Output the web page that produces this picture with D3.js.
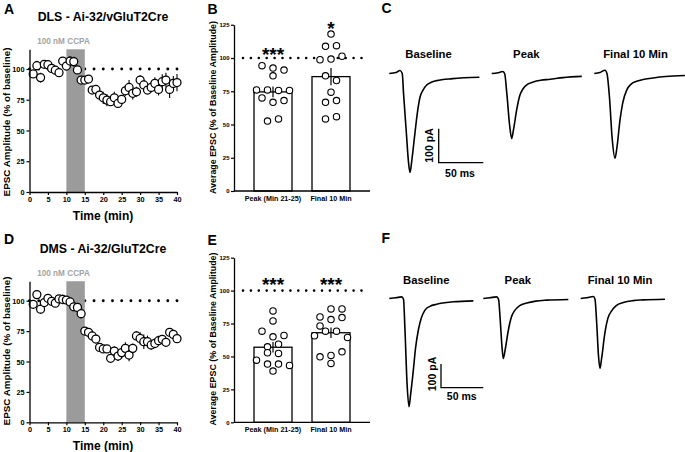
<!DOCTYPE html>
<html><head><meta charset="utf-8">
<script src="https://cdn.jsdelivr.net/npm/d3@7/dist/d3.min.js"></script>
<style>
html,body{margin:0;padding:0;background:#fff;}
svg text{font-family:"Liberation Sans",Arial,Helvetica,sans-serif;font-weight:bold;fill:#000;}
</style></head><body>
<svg id="fig" width="685" height="452"></svg>
<script>
// ---------------- DATA ----------------
const minutes = [1,2,3,4,5,6,7,8,9,10,11,12,13,14,15,16,17,18,19,20,21,22,23,24,25,26,27,28,29,30,31,32,33,34,35,36,37,38,39,40];
const ccpaWindow = [10, 15];
const xTicks = [0,5,10,15,20,25,30,35,40];
const yTicksTime = [0,25,50,75,100];
const yTicksBar = [0,25,50,75,100,125];

const dlsMean = [96,102.7,93,103.8,103.5,100.5,99,97,106.5,102.4,106.5,106,99.2,91,91,91.8,82.9,83.4,78.8,76.6,74.7,73.4,76.6,72,75.3,82.3,85,80.2,81.5,91,87,82.9,85,88.3,83.4,89.7,91,83.4,88.3,89];
const dlsSem  = [2,4,4,2,2,2,2,2,2,2,4,4,3,2,2,2,3,3,3,5,5,3,5,3,3,4,6,5,4,4,4,3,4,5,5,6,6,7,6,7];
const dmsMean = [97,105,93,98.5,102,99.5,98,101.5,101,100.5,99,95,94.5,89.3,75,74,71,68.5,61.6,60.3,60.3,52.6,58.6,54.5,57.3,60.8,55.3,60.8,71,69,66.3,66.3,63.6,64.9,67.1,68.2,65.8,74,72.3,68.8];
const dmsSem  = [2,3,4,2,3,3,3,3,4,3,3,3,3,4,2,2,2,3,2,2,2,3,4,4,5,5,5,4,4,5,6,5,4,4,4,3,3,3,3,2];

const barCategories = ["Peak (Min 21-25)", "Final 10 Min"];
const dlsBarMean = [74.5, 86];
const dlsBarSem = [4, 6.5];
const dlsPeakCells  = [94.2,92.4,90.9,86.6,76,76,75.6,75.6,70,66.7,68,52.6,54.2];
const dlsFinalCells = [118,108.8,109.3,98.7,99.2,101.3,86.6,83.1,74.3,66.7,68,54.2,55.9];
const dmsBarMean = [57, 68];
const dmsBarSem = [4, 4];
const dmsPeakCells  = [84.6,77,69.2,64.9,65.9,57.3,59.3,52.8,52.3,47.2,44.2,44.2,43.2,38.9];
const dmsFinalCells = [80,86.1,86.1,73.2,78,79.5,65.7,69.2,69.2,64.4,49.7,50.8,53.5,44.7];

// Example EPSC traces (ms, pA)
const traceNames = ["Baseline", "Peak", "Final 10 Min"];
const dlsTraceMs = [
  [0,7.5,12,14.5,16,19,21.5,23.2,25.5,28.8,31.5,34.4,38,41.9,47,53,71,101],
  [0,7,12.3,14.5,17,20,22.4,24.4,28,31.5,35.4,40,46.6,55,65.4,80,101],
  [0,6.4,12,14.2,17,20,23.2,25.5,28.8,32,36.3,41,47.5,56,66.2,80,101.6]
];
const dlsTracePa = [
  [0,3,8.8,0,-60,-170,-260,-291,-250,-174,-115,-70,-48,-34,-26,-21,-15,-11],
  [0,2,6,0,-60,-150,-191,-166,-107,-65,-44,-32,-25,-20,-17,-12,-8.5],
  [0,3,9.7,0,-70,-190,-249,-215,-137,-85,-49,-32,-23,-17,-13,-9,-6]
];
const dmsTraceMs = [
  [0,7.9,14.7,16.8,18.5,21,23.3,25.1,28.4,31,34.3,38,42.2,48,56,75.7,99.3],
  [0,7.9,15.8,18,20,22,23.6,25.7,29.6,33,37.5,43,51.3,62,74.9,100.5],
  [0,7.4,14.9,16.9,19,21,22.8,24.6,28.7,32,36.6,42,50.4,62,74,99.6]
];
const dmsTracePa = [
  [0,3.4,6.8,-3,-130,-360,-457,-408,-303,-210,-134,-80,-49,-33,-24,-14,-10],
  [0,3.4,6.8,-3,-90,-200,-253,-219,-134,-80,-49,-30,-19,-11,-7,-4],
  [0,3.4,8.4,-3,-110,-240,-295,-256,-143,-85,-52,-30,-17,-9,-6,-3]
];
const scaleBarPa = 100, scaleBarMs = 50;

// ---------------- DRAWING ----------------
const svg = d3.select("#fig");

function styleAxis(g, fs) {
  g.selectAll("path.domain").attr("stroke", "#000").attr("stroke-width", 1.3);
  g.selectAll(".tick line").attr("stroke", "#000").attr("stroke-width", 1.2);
  g.selectAll(".tick text").attr("font-size", fs).attr("font-family", null).attr("fill", "#000");
}

function timeCourse(cfg) {
  const g = svg.append("g");
  const x = d3.scaleLinear().domain([0, 40]).range([29.5, 177]);
  const y = d3.scaleLinear().domain([0, 116]).range([cfg.y0, cfg.y0 - 116 * cfg.k]);
  g.selectAll("circle.ref").data(d3.range(0, 40.01, 2.5)).join("circle")
    .attr("cx", d => x(d)).attr("cy", y(100)).attr("r", 1.45).attr("fill", "#000");
  g.append("rect").attr("x", x(ccpaWindow[0])).attr("y", y(116))
    .attr("width", x(ccpaWindow[1]) - x(ccpaWindow[0])).attr("height", y(0) - y(116))
    .attr("fill", "#9b9b9b");
  g.selectAll("line.err").data(minutes).join("line")
    .attr("x1", d => x(d)).attr("x2", d => x(d))
    .attr("y1", (d, i) => y(cfg.mean[i] - cfg.sem[i])).attr("y2", (d, i) => y(cfg.mean[i] + cfg.sem[i]))
    .attr("stroke", "#000").attr("stroke-width", 1.1);
  g.selectAll("circle.pt").data(minutes).join("circle")
    .attr("cx", d => x(d)).attr("cy", (d, i) => y(cfg.mean[i])).attr("r", 4)
    .attr("fill", "#fff").attr("stroke", "#000").attr("stroke-width", 1.25);
  const ax = g.append("g").attr("transform", `translate(0,${y(0)})`)
    .call(d3.axisBottom(x).tickValues(xTicks).tickSize(3).tickSizeOuter(0).tickPadding(2));
  styleAxis(ax, 7.3);
  const ay = g.append("g").attr("transform", `translate(${x(0)},0)`)
    .call(d3.axisLeft(y).tickValues(yTicksTime).tickSize(3).tickSizeOuter(0).tickPadding(2));
  styleAxis(ay, 7.3);
  ay.selectAll(".tick text").attr("dy", "0.35em");
  g.append("text").attr("x", 4).attr("y", cfg.y0 - 178.5).attr("font-size", 14).text(cfg.letter);
  g.append("text").attr("x", 103).attr("y", cfg.titleY).attr("text-anchor", "middle").attr("font-size", 12.3).text(cfg.title);
  g.append("text").attr("x", 63.5).attr("y", y(116) - 5.5).attr("text-anchor", "middle").attr("font-size", 8.2).style("fill", "#a3a3a3").text("100 nM CCPA");
  g.append("text").attr("transform", `translate(10,${cfg.ylabY}) rotate(-90)`).attr("text-anchor", "middle").attr("font-size", 9.8).text("EPSC Amplitude (% of baseline)");
  g.append("text").attr("x", 103).attr("y", y(0) + 28).attr("text-anchor", "middle").attr("font-size", 12).text("Time (min)");
}

function placeCells(vals, spacing) {
  // group values into rows (bins of 8 %), centre each row
  const bins = d3.group(vals.map((v, i) => ({v, i})), d => Math.floor(d.v / 8));
  const out = [];
  for (const [, arr] of bins) {
    const n = arr.length;
    arr.forEach((d, j) => out.push({v: d.v, dx: (j - (n - 1) / 2) * spacing}));
  }
  return out;
}

function barPanel(cfg) {
  const g = svg.append("g");
  const x = d3.scaleBand().domain(barCategories).range([234, 370]).padding(0.345);
  const y = d3.scaleLinear().domain([0, 125]).range([cfg.y0, cfg.y0 - 125 * cfg.k]);
  g.append("line").attr("x1", 243).attr("x2", 363).attr("y1", y(100)).attr("y2", y(100))
    .attr("stroke", "#000").attr("stroke-width", 2.6).attr("stroke-linecap", "round").attr("stroke-dasharray", "0 7.9");
  g.selectAll("rect.bar").data(barCategories).join("rect")
    .attr("x", d => x(d)).attr("width", x.bandwidth())
    .attr("y", (d, i) => y(cfg.mean[i])).attr("height", (d, i) => y(0) - y(cfg.mean[i]))
    .attr("fill", "#fff").attr("stroke", "#000").attr("stroke-width", 1.3);
  g.selectAll("line.err").data(barCategories).join("line")
    .attr("x1", d => x(d) + x.bandwidth() / 2).attr("x2", d => x(d) + x.bandwidth() / 2)
    .attr("y1", (d, i) => y(cfg.mean[i] - cfg.sem[i])).attr("y2", (d, i) => y(cfg.mean[i] + cfg.sem[i]))
    .attr("stroke", "#000").attr("stroke-width", 1.2);
  [cfg.peak, cfg.final].forEach((vals, ci) => {
    const cx = x(barCategories[ci]) + x.bandwidth() / 2;
    g.selectAll(null).data(placeCells(vals, 11)).join("circle")
      .attr("cx", d => cx + d.dx).attr("cy", d => y(d.v)).attr("r", 3.2)
      .attr("fill", "#fff").attr("stroke", "#000").attr("stroke-width", 1.1);
  });
  cfg.stars.forEach((s, i) => {
    g.append("text").attr("x", x(barCategories[i]) + x.bandwidth() / 2).attr("y", cfg.starY[i])
      .attr("text-anchor", "middle").attr("font-size", 19).text(s);
  });
  g.append("line").attr("x1", 234).attr("x2", 370).attr("y1", y(0)).attr("y2", y(0)).attr("stroke", "#000").attr("stroke-width", 1.3);
  const ay = g.append("g").attr("transform", `translate(234,0)`)
    .call(d3.axisLeft(y).tickValues(yTicksBar).tickSize(3).tickSizeOuter(0).tickPadding(1.5));
  styleAxis(ay, 6);
  g.selectAll("text.cat").data(barCategories).join("text")
    .attr("x", d => x(d) + x.bandwidth() / 2).attr("y", y(0) + 9.8)
    .attr("text-anchor", "middle").attr("font-size", 7.2).text(d => d);
  g.append("text").attr("x", 207.5).attr("y", cfg.letterY).attr("font-size", 14).text(cfg.letter);
  g.append("text").attr("transform", `translate(215.5,${cfg.ylabY}) rotate(-90)`).attr("text-anchor", "middle").attr("font-size", 8.9).text("Average EPSC (% of Baseline Amplitude)");
}

function tracePanel(cfg) {
  const g = svg.append("g");
  const yPa = d3.scaleLinear().domain([0, -100]).range([cfg.base, cfg.base + 100 * cfg.pxPerPa]);
  const line = d3.line().curve(d3.curveMonotoneX);
  cfg.ms.forEach((msArr, k) => {
    const xMs = d3.scaleLinear().domain([0, 100]).range([cfg.starts[k], cfg.starts[k] + 100 * cfg.pxPerMs]);
    g.append("path").attr("d", line(msArr.map((t, j) => [xMs(t), yPa(cfg.pa[k][j])])))
      .attr("fill", "none").attr("stroke", "#000").attr("stroke-width", 1.6).attr("stroke-linejoin", "round");
    g.append("text").attr("x", cfg.titleX[k]).attr("y", cfg.titleY).attr("text-anchor", "middle").attr("font-size", 11.3).text(traceNames[k]);
  });
  const sx = d3.scaleLinear().domain([0, scaleBarMs]).range([cfg.bar[0], cfg.bar[0] + scaleBarMs * cfg.pxPerMs]);
  const sy = d3.scaleLinear().domain([0, scaleBarPa]).range([cfg.bar[1], cfg.bar[1] - scaleBarPa * cfg.pxPerPa]);
  g.append("path").attr("d", `M${sx(0)},${sy(scaleBarPa)}L${sx(0)},${sy(0)}L${sx(scaleBarMs)},${sy(0)}`)
    .attr("fill", "none").attr("stroke", "#000").attr("stroke-width", 1.3);
  g.append("text").attr("transform", `translate(${cfg.paLab[0]},${cfg.paLab[1]}) rotate(-90)`).attr("text-anchor", "middle").attr("font-size", 10.5).text(scaleBarPa + " pA");
  g.append("text").attr("x", cfg.msLab[0]).attr("y", cfg.msLab[1]).attr("text-anchor", "middle").attr("font-size", 10.5).text(scaleBarMs + " ms");
  g.append("text").attr("x", 381.5).attr("y", cfg.letterY).attr("font-size", 14).text(cfg.letter);
}

timeCourse({letter: "A", title: "DLS - Ai-32/vGluT2Cre", y0: 192, k: 1.23, titleY: 20.5, ylabY: 122, mean: dlsMean, sem: dlsSem});
timeCourse({letter: "D", title: "DMS - Ai-32/GluT2Cre", y0: 422.3, k: 1.216, titleY: 252.5, ylabY: 351, mean: dmsMean, sem: dmsSem});

barPanel({letter: "B", letterY: 13.5, y0: 191, k: 1.33, ylabY: 107.5, mean: dlsBarMean, sem: dlsBarSem, peak: dlsPeakCells, final: dlsFinalCells, stars: ["***", "*"], starY: [60.7, 34.7]});
barPanel({letter: "E", letterY: 245, y0: 422.3, k: 1.317, ylabY: 339, mean: dmsBarMean, sem: dmsBarSem, peak: dmsPeakCells, final: dmsFinalCells, stars: ["***", "***"], starY: [290.7, 290.7]});

tracePanel({letter: "C", letterY: 13, base: 73.5, pxPerMs: 0.892, pxPerPa: 0.34, starts: [389.3, 491.7, 594.3],
  ms: dlsTraceMs, pa: dlsTracePa, titleX: [428.5, 526.3, 635.5], titleY: 57.5,
  bar: [438.7, 162.7], paLab: [432.5, 145.5], msLab: [460, 176.5]});
tracePanel({letter: "F", letterY: 242.5, base: 298.5, pxPerMs: 0.846, pxPerPa: 0.237, starts: [389.3, 483.3, 580.7],
  ms: dmsTraceMs, pa: dmsTracePa, titleX: [426.3, 517.8, 620], titleY: 284,
  bar: [441, 387.7], paLab: [435.5, 374], msLab: [461.7, 400]});
</script>
</body></html>
